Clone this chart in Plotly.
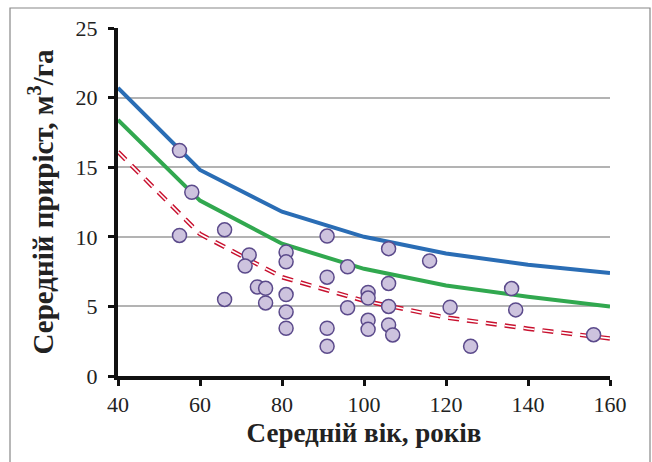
import plotly.graph_objects as go

# Curve data
curve_x = [40, 60, 80, 100, 120, 140, 160]
blue_y = [20.7, 14.8, 11.8, 10.0, 8.8, 8.0, 7.4]
green_y = [18.4, 12.6, 9.5, 7.7, 6.5, 5.7, 5.0]
red_y = [16.1, 10.2, 7.1, 5.4, 4.2, 3.4, 2.7]

# Observed points
pts_x = [55, 58, 55, 66, 66, 72, 71, 74, 76, 76, 81, 81, 81, 81, 81,
         91, 91, 91, 91, 96, 96, 101, 101, 101, 101, 106, 106, 106, 106, 107,
         116, 121, 126, 136, 137, 156]
pts_y = [16.2, 13.2, 10.1, 10.5, 5.5, 8.7, 7.9, 6.4, 6.3, 5.25, 8.9, 8.2, 5.85, 4.6, 3.43,
         10.05, 7.1, 3.43, 2.13, 7.84, 4.9, 6.0, 5.6, 4.0, 3.35, 9.15, 6.65, 5.0, 3.67, 2.95,
         8.27, 4.94, 2.13, 6.28, 4.75, 2.97]

x_ticks = [40, 60, 80, 100, 120, 140, 160]
y_ticks = [0, 5, 10, 15, 20, 25]

FONT = "Liberation Serif"

fig = go.Figure()
fig.add_trace(go.Scatter(x=curve_x, y=blue_y, mode="lines",
                         line=dict(color="#2a6db5", width=4), showlegend=False))
fig.add_trace(go.Scatter(x=curve_x, y=green_y, mode="lines",
                         line=dict(color="#31a84f", width=4), showlegend=False))
fig.add_trace(go.Scatter(x=curve_x, y=red_y, mode="lines",
                         line=dict(color="#c8102e", width=4.5, dash="11px,8px"), showlegend=False))
fig.add_trace(go.Scatter(x=curve_x, y=red_y, mode="lines",
                         line=dict(color="#ffffff", width=1.6, dash="11px,8px"), showlegend=False))
fig.add_trace(go.Scatter(x=pts_x, y=pts_y, mode="markers",
                         marker=dict(size=14, color="#cdc3de",
                                     line=dict(color="#5b4a8b", width=1.5)),
                         showlegend=False))

L, R, T, B = 118, 42, 28, 86
W, H = 652, 462
pw = W - L - R
ph = H - T - B

fig.update_layout(
    width=W, height=H,
    margin=dict(l=L, r=R, t=T, b=B),
    paper_bgcolor="white", plot_bgcolor="white",
    font=dict(family=FONT, color="#222222"),
    xaxis=dict(range=[40, 160], tickvals=x_ticks, showgrid=False, zeroline=False,
               showline=True, linecolor="#111111", linewidth=4,
               ticks="outside", ticklen=6, tickwidth=3, tickcolor="#111111",
               tickfont=dict(family=FONT, size=22, color="#222222"),
               title=dict(text="<b>Середній вік, років</b>",
                          font=dict(family=FONT, size=27, color="#222222"), standoff=8)),
    yaxis=dict(range=[0, 25], tickvals=y_ticks, showgrid=True, gridcolor="#b3b3b3", gridwidth=1.5,
               zeroline=False, showline=True, linecolor="#111111", linewidth=4,
               ticks="outside", ticklen=6, tickwidth=3, tickcolor="#111111",
               ticklabelstandoff=6,
               tickfont=dict(family=FONT, size=22, color="#222222"),
               title=dict(text="<b>Середній приріст, м<sup>3</sup>/га</b>",
                          font=dict(family=FONT, size=29, color="#222222"), standoff=14)),
    shapes=[dict(type="rect", xref="paper", yref="paper",
                 x0=(10 - L) / pw, x1=(650 - L) / pw,
                 y0=(H - 470 - B) / ph, y1=(H - 8 - B) / ph,
                 line=dict(color="#888888", width=1.2), fillcolor="rgba(0,0,0,0)", layer="below")],
)

fig.write_html("out.html")
